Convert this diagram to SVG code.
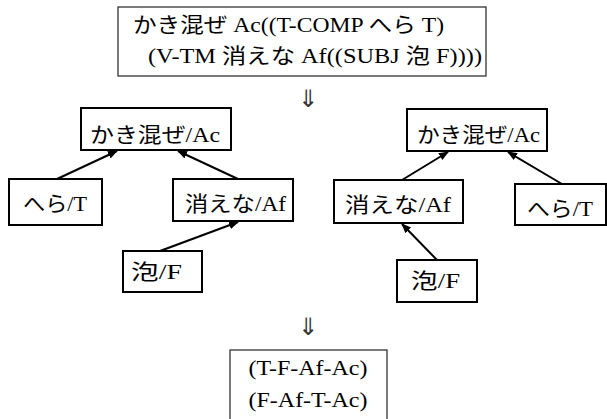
<svg xmlns="http://www.w3.org/2000/svg" width="607" height="419" viewBox="0 0 607 419">
<defs>
<style>
.box{fill:#fff;stroke:#000;stroke-width:2}
.thin{fill:#fff;stroke:#222;stroke-width:1.2}
.lbl{font-family:"Liberation Serif","Noto Sans CJK JP",serif;font-size:21px;fill:#000}
.tex{font-family:"Liberation Serif","Noto Sans CJK JP",serif;font-size:21px;fill:#000}
.dar{font-family:"DejaVu Sans","Noto Sans CJK JP",sans-serif;font-size:24px;fill:#333}
.edge{stroke:#000;stroke-width:2;fill:none;marker-end:url(#ah)}
</style>
<marker id="ah" markerUnits="userSpaceOnUse" markerWidth="10" markerHeight="8" refX="9" refY="4" orient="auto">
<path d="M0,0 L10,4 L0,8 Z" fill="#000"/>
</marker>
</defs>
<rect width="607" height="419" fill="#fff"/>

<g id="source">
<rect class="thin" x="118" y="7" width="368" height="69"/>
<text class="tex" x="133" y="32" textLength="311" lengthAdjust="spacingAndGlyphs">かき混ぜ Ac((T-COMP へら T)</text>
<text class="tex" x="148" y="63" textLength="334" lengthAdjust="spacingAndGlyphs">(V-TM 消えな Af((SUBJ 泡 F))))</text>
</g>

<g id="arrow1"><text class="dar" x="308" y="107" text-anchor="middle">⇓</text></g>
<g id="arrow2"><text class="dar" x="308" y="335" text-anchor="middle">⇓</text></g>

<g id="L_Ac"><rect class="box" x="81" y="108" width="150" height="42"/>
<text class="lbl" x="90" y="142" textLength="130" lengthAdjust="spacingAndGlyphs">かき混ぜ/Ac</text></g>
<g id="L_T"><rect class="box" x="9" y="179" width="93" height="46"/>
<text class="lbl" x="23" y="211" textLength="64" lengthAdjust="spacingAndGlyphs">へら/T</text></g>
<g id="L_Af"><rect class="box" x="173" y="179" width="120" height="42"/>
<text class="lbl" x="185" y="211" textLength="101" lengthAdjust="spacingAndGlyphs">消えな/Af</text></g>
<g id="L_F"><rect class="box" x="123" y="251" width="79" height="41"/>
<text class="lbl" x="131" y="279" textLength="51" lengthAdjust="spacingAndGlyphs">泡/F</text></g>

<g id="R_Ac"><rect class="box" x="407" y="109" width="140" height="42"/>
<text class="lbl" x="417" y="142" textLength="123" lengthAdjust="spacingAndGlyphs">かき混ぜ/Ac</text></g>
<g id="R_Af"><rect class="box" x="334" y="180" width="129" height="43"/>
<text class="lbl" x="345" y="212" textLength="106" lengthAdjust="spacingAndGlyphs">消えな/Af</text></g>
<g id="R_T"><rect class="box" x="515" y="184" width="91" height="41"/>
<text class="lbl" x="527" y="216" textLength="66" lengthAdjust="spacingAndGlyphs">へら/T</text></g>
<g id="R_F"><rect class="box" x="397" y="260" width="80" height="42"/>
<text class="lbl" x="411" y="288" textLength="49" lengthAdjust="spacingAndGlyphs">泡/F</text></g>

<g id="result">
<rect class="thin" x="230" y="350" width="157" height="75"/>
<text class="tex" x="308" y="375" text-anchor="middle" textLength="119" lengthAdjust="spacingAndGlyphs">(T-F-Af-Ac)</text>
<text class="tex" x="308" y="407" text-anchor="middle" textLength="119" lengthAdjust="spacingAndGlyphs">(F-Af-T-Ac)</text>
</g>

<g id="connectors">
<line class="edge" x1="57" y1="179" x2="117" y2="151"/>
<line class="edge" x1="238" y1="179" x2="178" y2="151"/>
<line class="edge" x1="160" y1="251" x2="238" y2="222"/>
<line class="edge" x1="402" y1="180" x2="448" y2="152"/>
<line class="edge" x1="562" y1="184" x2="508" y2="152"/>
<line class="edge" x1="437" y1="260" x2="402" y2="224"/>
</g>
</svg>
